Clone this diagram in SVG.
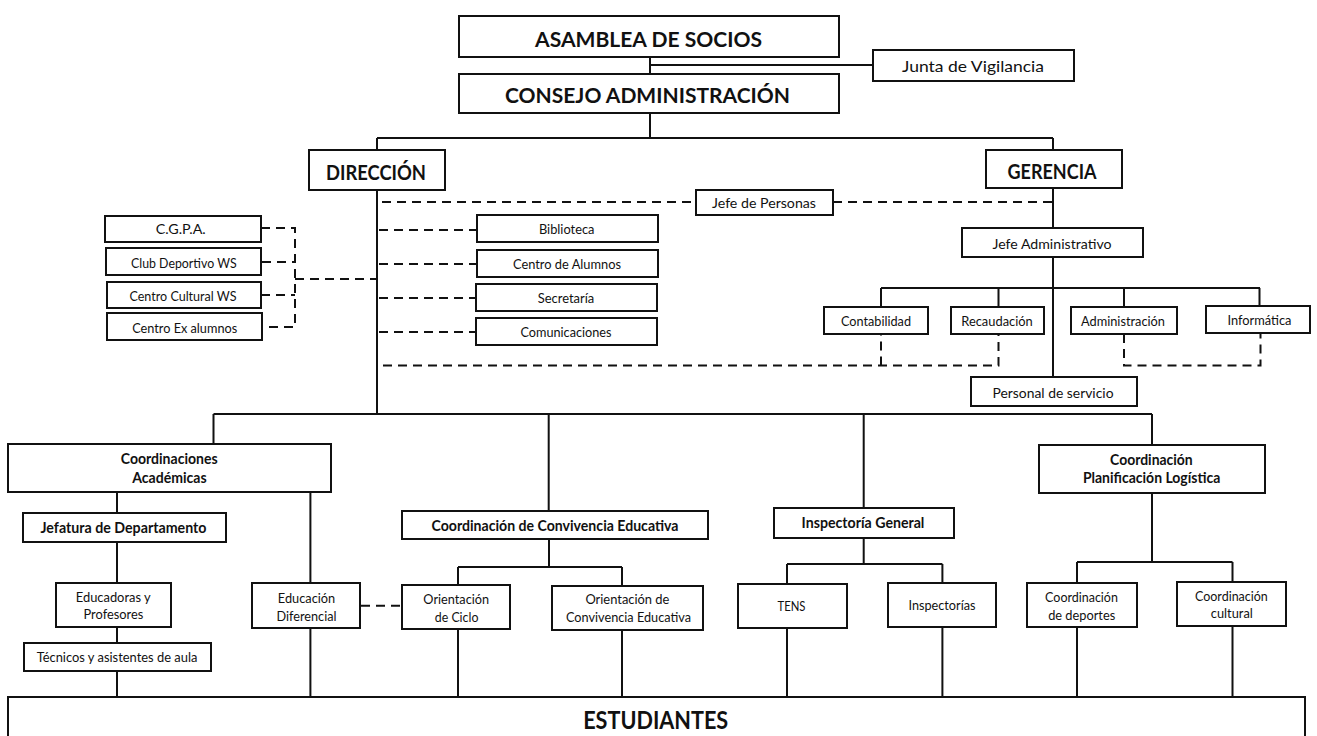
<svg xmlns="http://www.w3.org/2000/svg" width="1317" height="736" viewBox="0 0 1317 736">
<style>
.bx{fill:#fff;stroke:#111;stroke-width:2}
.ln{fill:none;stroke:#111;stroke-width:2}
.ds{fill:none;stroke:#111;stroke-width:2;stroke-dasharray:9 6}
text{font-family:Lato,"Open Sans","Liberation Sans",sans-serif;fill:#111;text-anchor:middle;dominant-baseline:central;}
.t{font-size:14px}
.b{font-size:14.5px;font-weight:bold}
.h{font-size:21px;font-weight:bold}
.hm{font-size:20px;font-weight:bold}
.hx{font-size:25px;font-weight:bold}
</style>
<rect width="1317" height="736" fill="#fff"/>
<g id="connectors">
<path class="ln" d="M650,57 V74 M650,65 H873 M650,113 V138 M377,138 H1053 M377,138 V150 M1053,138 V150"/>
<path class="ln" d="M377,190 V414 M1053,188 V228 M1053,257 V377"/>
<path class="ln" d="M881,288 H1260 M881,288 V307 M998.5,288 V307 M1124,288 V307 M1259.5,288 V306"/>
<path class="ln" d="M213.5,414 H1152 M213.5,414 V444 M548.7,414 V511 M863.7,414 V508 M1152,414 V445"/>
<path class="ln" d="M117,492 V513 M117,542 V583 M117,627 V643 M117,671 V697 M310.4,492 V583 M310.4,628 V697"/>
<path class="ln" d="M549,539 V567 M458,567 H622 M458,567 V585 M622,567 V586 M458,629 V697 M622,630 V697"/>
<path class="ln" d="M863.7,538 V564 M787,564 H942.4 M787,564 V584 M942.4,564 V583 M787,628 V697 M942.4,627 V697"/>
<path class="ln" d="M1152,493 V562 M1077,562 H1232.5 M1077,562 V583 M1232.5,562 V582 M1077,627 V697 M1232.5,626 V697"/>
<path class="ds" d="M382,202 H696 M833,202 H1053"/>
<path class="ds" d="M379,230 H477 M379,264 H477 M379,298 H476 M379,332 H476"/>
<path class="ds" d="M261,228 H295 V327 H262 M262,262 H295 M261,295 H295 M295,279 H377"/>
<path class="ds" d="M383,365.5 H998.5 V334 M881,365.5 V334 M1124,334 V365.5 H1260.5 V333"/>
<path class="ds" d="M361,605.7 H402"/>
</g>
<g id="asamblea"><rect class="bx" x="459" y="16" width="380" height="41"/><text class="h" x="648.5" y="38" textLength="227" lengthAdjust="spacingAndGlyphs">ASAMBLEA DE SOCIOS</text></g>
<g id="junta"><rect class="bx" x="873" y="50" width="201" height="31"/><text class="t" x="973" y="66" textLength="142" lengthAdjust="spacingAndGlyphs" style="font-size:15px">Junta de Vigilancia</text></g>
<g id="consejo"><rect class="bx" x="459" y="74" width="380" height="39"/><text class="h" x="647.5" y="94.5" textLength="285" lengthAdjust="spacingAndGlyphs">CONSEJO ADMINISTRACIÓN</text></g>
<g id="direccion"><rect class="bx" x="309" y="150" width="136" height="40"/><text class="hm" x="376" y="171.5" textLength="100" lengthAdjust="spacingAndGlyphs">DIRECCIÓN</text></g>
<g id="gerencia"><rect class="bx" x="986" y="150" width="136" height="38"/><text class="hm" x="1052" y="170.5" textLength="89" lengthAdjust="spacingAndGlyphs">GERENCIA</text></g>
<g id="jefe-personas"><rect class="bx" x="696" y="190" width="137" height="25"/><text class="t" x="764" y="202" textLength="104" lengthAdjust="spacingAndGlyphs">Jefe de Personas</text></g>
<g id="jefe-admin"><rect class="bx" x="962" y="228" width="181" height="29"/><text class="t" x="1052" y="243" textLength="119" lengthAdjust="spacingAndGlyphs">Jefe Administrativo</text></g>
<g id="contabilidad"><rect class="bx" x="824" y="307" width="104" height="27"/><text class="t" x="876" y="320" textLength="70" lengthAdjust="spacingAndGlyphs">Contabilidad</text></g>
<g id="recaudacion"><rect class="bx" x="951" y="307" width="93" height="27"/><text class="t" x="997" y="320" textLength="71.5" lengthAdjust="spacingAndGlyphs">Recaudación</text></g>
<g id="administracion"><rect class="bx" x="1071" y="307" width="106" height="27"/><text class="t" x="1123" y="320" textLength="84" lengthAdjust="spacingAndGlyphs">Administración</text></g>
<g id="informatica"><rect class="bx" x="1206" y="306" width="104" height="27"/><text class="t" x="1259.4" y="319" textLength="64" lengthAdjust="spacingAndGlyphs">Informática</text></g>
<g id="personal-servicio"><rect class="bx" x="971" y="377" width="166" height="29"/><text class="t" x="1053" y="392" textLength="121" lengthAdjust="spacingAndGlyphs">Personal de servicio</text></g>
<g id="cgpa"><rect class="bx" x="105" y="216" width="156" height="26"/><text class="t" x="180.7" y="228.5" textLength="50" lengthAdjust="spacingAndGlyphs">C.G.P.A.</text></g>
<g id="club-deportivo"><rect class="bx" x="106" y="248" width="155" height="27"/><text class="t" x="183.8" y="262" textLength="105.6" lengthAdjust="spacingAndGlyphs">Club Deportivo WS</text></g>
<g id="centro-cultural"><rect class="bx" x="107" y="282" width="154" height="26"/><text class="t" x="183" y="295" textLength="107" lengthAdjust="spacingAndGlyphs">Centro Cultural WS</text></g>
<g id="centro-exalumnos"><rect class="bx" x="107" y="313" width="155" height="27"/><text class="t" x="184.7" y="327" textLength="105" lengthAdjust="spacingAndGlyphs">Centro Ex alumnos</text></g>
<g id="biblioteca"><rect class="bx" x="477" y="215" width="181" height="27"/><text class="t" x="566.7" y="228.5" textLength="55.5" lengthAdjust="spacingAndGlyphs">Biblioteca</text></g>
<g id="centro-alumnos"><rect class="bx" x="477" y="250" width="181" height="27"/><text class="t" x="567" y="263.5" textLength="108" lengthAdjust="spacingAndGlyphs">Centro de Alumnos</text></g>
<g id="secretaria"><rect class="bx" x="476" y="284" width="181" height="27"/><text class="t" x="566" y="297.5" textLength="56.6" lengthAdjust="spacingAndGlyphs">Secretaría</text></g>
<g id="comunicaciones"><rect class="bx" x="476" y="318" width="181" height="27"/><text class="t" x="566" y="331.5" textLength="91" lengthAdjust="spacingAndGlyphs">Comunicaciones</text></g>
<g id="coord-academicas"><rect class="bx" x="8" y="444" width="323" height="48"/><text class="b" x="169.2" y="458.3" textLength="96.8" lengthAdjust="spacingAndGlyphs">Coordinaciones</text><text class="b" x="169.4" y="477.3" textLength="74.4" lengthAdjust="spacingAndGlyphs">Académicas</text></g>
<g id="jefatura"><rect class="bx" x="23" y="513" width="203" height="29"/><text class="b" x="123.5" y="527" textLength="166" lengthAdjust="spacingAndGlyphs">Jefatura de Departamento</text></g>
<g id="educadoras"><rect class="bx" x="56" y="583" width="115" height="44"/><text class="t" x="113.2" y="596.7" textLength="74.8" lengthAdjust="spacingAndGlyphs">Educadoras y</text><text class="t" x="113.4" y="613.3" textLength="59.7" lengthAdjust="spacingAndGlyphs">Profesores</text></g>
<g id="tecnicos"><rect class="bx" x="24" y="643" width="187" height="28"/><text class="t" x="117" y="656.5" textLength="160.7" lengthAdjust="spacingAndGlyphs">Técnicos y asistentes de aula</text></g>
<g id="educacion-diferencial"><rect class="bx" x="252" y="583" width="108" height="45"/><text class="t" x="306.5" y="597.7" textLength="57.4" lengthAdjust="spacingAndGlyphs">Educación</text><text class="t" x="306.5" y="615" textLength="60" lengthAdjust="spacingAndGlyphs">Diferencial</text></g>
<g id="coord-convivencia"><rect class="bx" x="402" y="511" width="306" height="28"/><text class="b" x="555" y="525.5" textLength="247" lengthAdjust="spacingAndGlyphs">Coordinación de Convivencia Educativa</text></g>
<g id="orientacion-ciclo"><rect class="bx" x="402" y="585" width="108" height="44"/><text class="t" x="456.2" y="598.3" textLength="65.7" lengthAdjust="spacingAndGlyphs">Orientación</text><text class="t" x="456.6" y="616" textLength="43.6" lengthAdjust="spacingAndGlyphs">de Ciclo</text></g>
<g id="orientacion-convivencia"><rect class="bx" x="552" y="586" width="151" height="44"/><text class="t" x="627.4" y="598.3" textLength="84" lengthAdjust="spacingAndGlyphs">Orientación de</text><text class="t" x="628.5" y="616" textLength="125" lengthAdjust="spacingAndGlyphs">Convivencia Educativa</text></g>
<g id="inspectoria-general"><rect class="bx" x="774" y="508" width="180" height="30"/><text class="b" x="863" y="522.7" textLength="122.8" lengthAdjust="spacingAndGlyphs">Inspectoría General</text></g>
<g id="tens"><rect class="bx" x="738" y="584" width="109" height="44"/><text class="t" x="791.5" y="605.7" textLength="28" lengthAdjust="spacingAndGlyphs">TENS</text></g>
<g id="inspectorias"><rect class="bx" x="888" y="583" width="108" height="44"/><text class="t" x="942" y="604" textLength="67" lengthAdjust="spacingAndGlyphs">Inspectorías</text></g>
<g id="coord-planificacion"><rect class="bx" x="1039" y="445" width="226" height="48"/><text class="b" x="1151.4" y="459.3" textLength="82.7" lengthAdjust="spacingAndGlyphs">Coordinación</text><text class="b" x="1151.6" y="477.7" textLength="137.4" lengthAdjust="spacingAndGlyphs">Planificación Logística</text></g>
<g id="coord-deportes"><rect class="bx" x="1027" y="583" width="110" height="44"/><text class="t" x="1081.5" y="596.7" textLength="72.8" lengthAdjust="spacingAndGlyphs">Coordinación</text><text class="t" x="1081.7" y="614" textLength="67" lengthAdjust="spacingAndGlyphs">de deportes</text></g>
<g id="coord-cultural"><rect class="bx" x="1177" y="582" width="109" height="44"/><text class="t" x="1231.4" y="595" textLength="72.8" lengthAdjust="spacingAndGlyphs">Coordinación</text><text class="t" x="1231.8" y="612.3" textLength="42" lengthAdjust="spacingAndGlyphs">cultural</text></g>
<g id="estudiantes"><rect class="bx" x="8" y="697" width="1297" height="60"/><text class="hx" x="655.7" y="718.5" textLength="145" lengthAdjust="spacingAndGlyphs">ESTUDIANTES</text></g>
</svg>
